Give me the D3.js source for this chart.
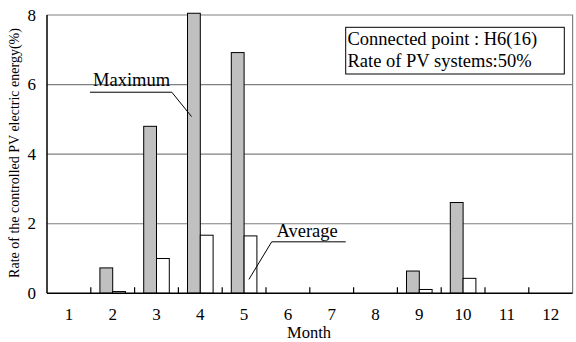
<!DOCTYPE html>
<html>
<head>
<meta charset="utf-8">
<script src="https://cdn.jsdelivr.net/npm/d3@7"></script>
<style>
  body { margin: 0; background: #fff; }
  svg { display: block; font-family: "Liberation Serif", "Times New Roman", serif; }
</style>
</head>
<body>
<svg id="chart" width="576" height="342"></svg>
<script>
// Data
var months = [1, 2, 3, 4, 5, 6, 7, 8, 9, 10, 11, 12];
var maxValues = [0, 0.73, 4.8, 8.05, 6.92, 0, 0, 0, 0.64, 2.61, 0, 0];
var avgValues = [0, 0.05, 1.0, 1.67, 1.65, 0, 0, 0, 0.11, 0.43, 0, 0];
var yTicks = [0, 2, 4, 6, 8];
var legendLines = ["Connected point : H6(16)", "Rate of PV systems:50%"];

(function () {
  "use strict";
  var svg = d3.select("#chart"),
      pLeft = 47, pRight = 572.6, pTop = 15, pBottom = 293.3,
      fs = 18.5,   // text size
      fsNum = 17;  // tick number size

  var x = d3.scaleBand().domain(months).range([pLeft, pRight]).padding(0);
  var xPos = d3.scaleLinear().domain([0.5, 12.5]).range([pLeft, pRight]);
  var y = d3.scaleLinear().domain([0, 8]).range([pBottom, pTop]);
  var barW = 12.8;

  // frame top/right (gray)
  svg.append("path")
    .attr("d", "M" + pLeft + "," + pTop + "H" + pRight + "V" + pBottom)
    .attr("fill", "none").attr("stroke", "#808080").attr("stroke-width", 1.2);

  // gridlines
  svg.selectAll("line.grid").data(yTicks.filter(function (d) { return d > 0 && d < 8; }))
    .enter().append("line")
    .attr("x1", pLeft).attr("x2", pRight)
    .attr("y1", function (d) { return y(d); }).attr("y2", function (d) { return y(d); })
    .attr("stroke", "#808080").attr("stroke-width", 1.2);

  // bars
  var g = svg.append("g");
  g.selectAll("rect.max").data(months.filter(function (d, i) { return maxValues[i] > 0; }))
    .enter().append("rect")
    .attr("x", function (d) { return x(d) + x.bandwidth() / 2 - barW; })
    .attr("y", function (d) { return y(maxValues[d - 1]); })
    .attr("width", barW)
    .attr("height", function (d) { return pBottom - y(maxValues[d - 1]); })
    .attr("fill", "#c0c0c0").attr("stroke", "#000").attr("stroke-width", 1);

  g.selectAll("rect.avg").data(months.filter(function (d, i) { return avgValues[i] > 0; }))
    .enter().append("rect")
    .attr("x", function (d) { return x(d) + x.bandwidth() / 2; })
    .attr("y", function (d) { return y(avgValues[d - 1]); })
    .attr("width", barW)
    .attr("height", function (d) { return pBottom - y(avgValues[d - 1]); })
    .attr("fill", "#fff").attr("stroke", "#000").attr("stroke-width", 1);

  // axes
  svg.append("line").attr("x1", pLeft).attr("x2", pLeft).attr("y1", pTop).attr("y2", pBottom)
    .attr("stroke", "#000").attr("stroke-width", 1.5);
  svg.append("line").attr("x1", pLeft).attr("x2", pRight).attr("y1", pBottom).attr("y2", pBottom)
    .attr("stroke", "#000").attr("stroke-width", 1.5);

  // x ticks between months (pointing up)
  svg.selectAll("line.xt").data(months.slice(1)).enter().append("line")
    .attr("x1", function (d) { return x(d); }).attr("x2", function (d) { return x(d); })
    .attr("y1", pBottom).attr("y2", pBottom - 6)
    .attr("stroke", "#000").attr("stroke-width", 1.2);

  // x labels
  svg.selectAll("text.xl").data(months).enter().append("text")
    .attr("x", function (d) { return x(d) + x.bandwidth() / 2; })
    .attr("y", 319.5)
    .attr("text-anchor", "middle").attr("font-size", fsNum)
    .text(function (d) { return d; });

  svg.append("text").attr("x", 309).attr("y", 338)
    .attr("text-anchor", "middle").attr("font-size", 16.5).text("Month");

  // y labels
  svg.selectAll("text.yl").data(yTicks).enter().append("text")
    .attr("x", 36).attr("y", function (d) { return y(d) + 5.5; })
    .attr("text-anchor", "end").attr("font-size", fsNum)
    .text(function (d) { return d; });

  svg.append("text")
    .attr("transform", "translate(19,153) rotate(-90)")
    .attr("text-anchor", "middle").attr("font-size", 14)
    .text("Rate of the controlled PV electric energy(%)");

  // legend box
  svg.append("rect").attr("x", 345.7).attr("y", 27.3).attr("width", 218.6).attr("height", 46.7)
    .attr("fill", "#fff").attr("stroke", "#000").attr("stroke-width", 1);
  svg.selectAll("text.lg").data(legendLines).enter().append("text")
    .attr("x", 347.5).attr("y", function (d, i) { return 45 + i * 22; })
    .attr("font-size", fs).text(function (d) { return d; });

  // annotations (in data coordinates)
  function annotate(label, tx, ty, u0, u1, uy, px, py) {
    svg.append("text").attr("x", xPos(tx)).attr("y", y(ty))
      .attr("font-size", fs).text(label);
    svg.append("path")
      .attr("d", "M" + xPos(u0) + "," + y(uy) + "H" + xPos(u1) + "L" + xPos(px) + "," + y(py))
      .attr("fill", "none").attr("stroke", "#000").attr("stroke-width", 1);
  }
  annotate("Maximum", 1.55, 5.97, 1.48, 3.35, 5.78, 3.80, 5.08);
  annotate("Average", 5.74, 1.63, 7.32, 5.63, 1.48, 5.11, 0.40);
}());
</script>
</body>
</html>
